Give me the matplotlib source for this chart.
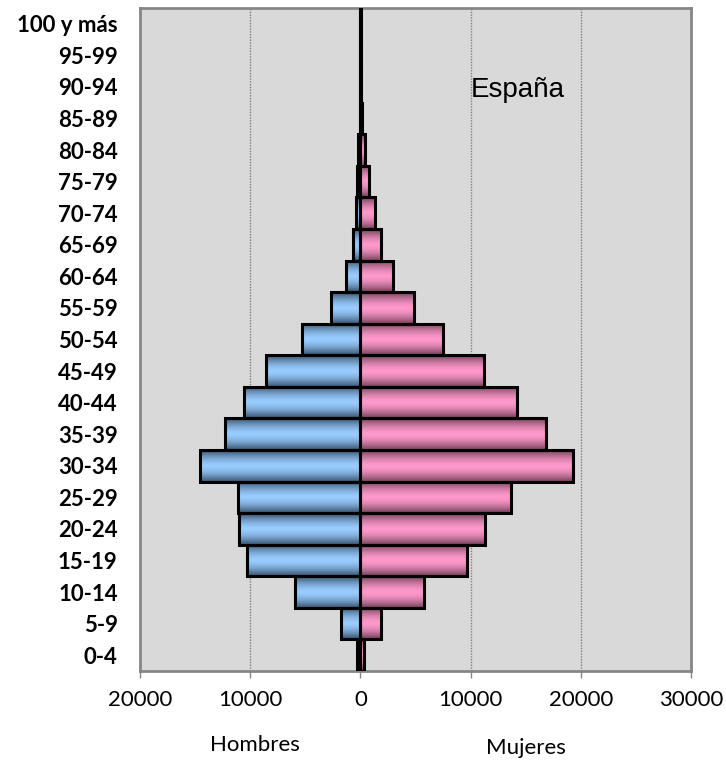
import matplotlib
matplotlib.use("Agg")
import matplotlib.pyplot as plt
import numpy as np
from matplotlib.colors import to_rgb
from matplotlib.ticker import FuncFormatter

# Población por grupos de edad
grupos = ['0-4', '5-9', '10-14', '15-19', '20-24', '25-29', '30-34', '35-39',
          '40-44', '45-49', '50-54', '55-59', '60-64', '65-69', '70-74',
          '75-79', '80-84', '85-89', '90-94', '95-99', '100 y más']
hombres = [300, 1800, 5900, 10250, 11050, 11100, 14550, 12300, 10600, 8600,
           5300, 2700, 1300, 700, 420, 280, 180, 80, 30, 10, 5]
mujeres = [300, 1830, 5750, 9650, 11300, 13700, 19300, 16800, 14200, 11250,
           7500, 4900, 3000, 1900, 1350, 750, 400, 150, 60, 20, 10]

xticks = [-20000, -10000, 0, 10000, 20000, 30000]


def gradiente(centro, borde, n=64):
    # degradado vertical: oscuro en los bordes, claro en el centro
    c = np.array(to_rgb(centro))
    b = np.array(to_rgb(borde))
    s = np.linspace(0, 1, n)
    d = np.abs(s - 0.5) * 2
    w = d ** 1.6
    img = c[None, :] * (1 - w[:, None]) + b[None, :] * w[:, None]
    return img[:, None, :]


fig = plt.figure(figsize=(7.26, 7.62), dpi=100)
ax = fig.add_axes([140 / 726, 91 / 762, 551 / 726, 663 / 762])
ax.set_facecolor('#d9d9d9')

y = np.arange(len(grupos))
izq = -np.array(hombres)
der = np.array(mujeres)

img_h = gradiente('#99ccff', '#35506b')
img_m = gradiente('#ff99cc', '#704058')

for valores, img in ((izq, img_h), (der, img_m)):
    barras = ax.barh(y, valores, height=1.0, facecolor='none',
                     edgecolor='black', linewidth=2.2, zorder=3)
    for b in barras:
        x0, y0 = b.get_x(), b.get_y()
        w, h = b.get_width(), b.get_height()
        im = ax.imshow(img, extent=[min(x0, x0 + w), max(x0, x0 + w), y0, y0 + h],
                       aspect='auto', interpolation='bilinear', zorder=2)
        im.set_clip_path(b)

ax.set_xlim(-20000, 30000)
ax.set_ylim(-0.5, len(grupos) - 0.5)
ax.set_xticks(xticks)
ax.xaxis.set_major_formatter(FuncFormatter(lambda v, p: f'{abs(int(v))}'))
ax.set_yticks(y)
ax.set_yticklabels(grupos, fontfamily='Lato', fontweight='bold', fontsize=16)
ax.tick_params(axis='y', length=0, pad=16)
ax.tick_params(axis='x', direction='out', length=5, color='#868686', width=1,
               labelsize=16, pad=9)
for lab in ax.get_xticklabels():
    lab.set_fontfamily('Lato')

ax.xaxis.grid(True, linestyle=(0, (1, 1)), color='#7f7f7f', linewidth=1, zorder=1)
ax.set_axisbelow(True)
for sp in ax.spines.values():
    sp.set_color('#868686')
    sp.set_linewidth(2)

ax.text(14300, 17.9, 'España', fontsize=20, fontfamily='Liberation Sans',
        ha='center', va='center', zorder=4)

fig.text(255 / 726, 1 - 745 / 762, 'Hombres', fontsize=16, fontfamily='Lato',
         ha='center', va='center')
fig.text(526 / 726, 1 - 748 / 762, 'Mujeres', fontsize=16, fontfamily='Lato',
         ha='center', va='center')

fig.savefig('out.png', dpi=100)
